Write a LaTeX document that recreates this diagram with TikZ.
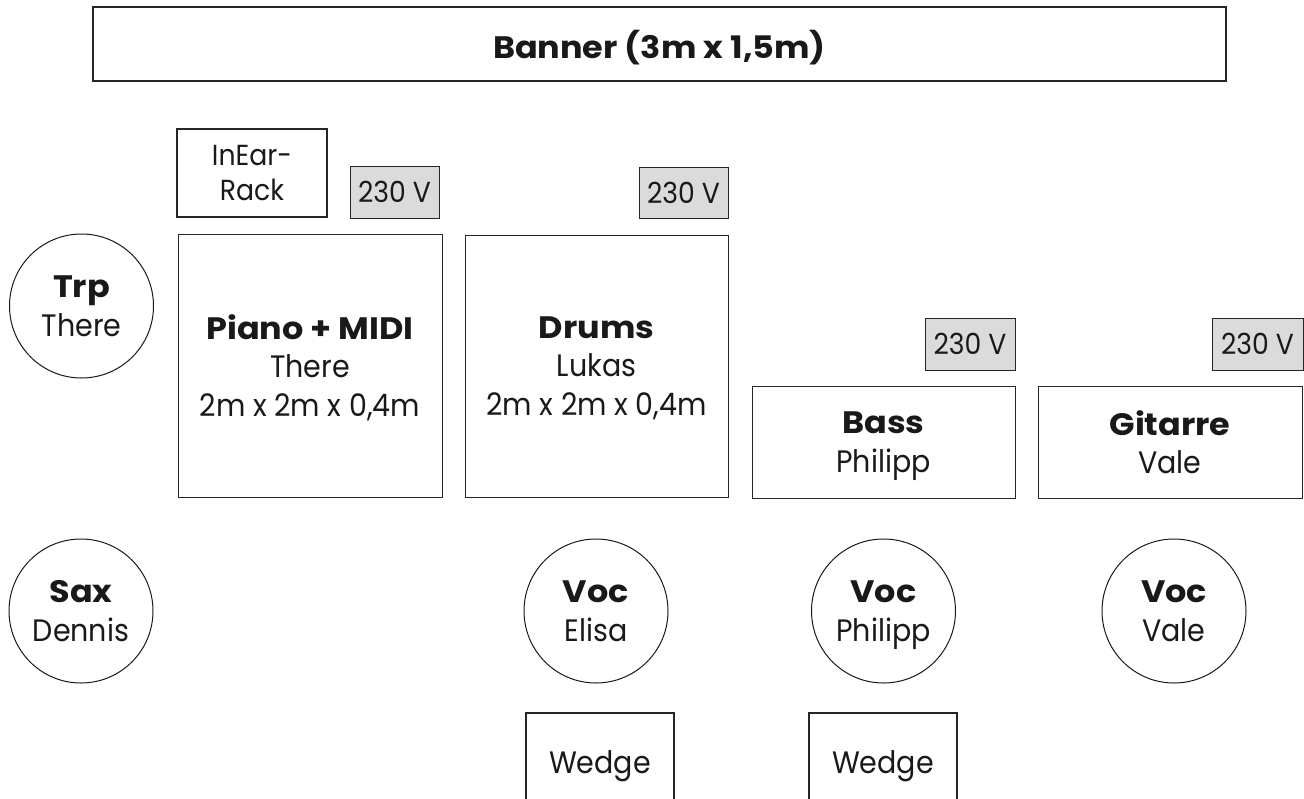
\documentclass[tikz,border=0pt]{standalone}
\usepackage{fontspec}
\setmainfont{Poppins}[FakeStretch=0.92,BoldFeatures={FakeStretch=1.08}]
\newcommand\bigtxt{\fontsize{31}{38.5}\selectfont}
\newcommand\smalltxt{\fontsize{29}{35}\selectfont}
\begin{document}
\begin{tikzpicture}[x=1pt,y=-1pt,
  box/.style={draw=black!85,line width=1pt,inner sep=0pt,align=center,font=\bigtxt,text=black!90,text depth=0pt},
  thickbox/.style={box,line width=1.8pt,font=\smalltxt},
  power/.style={box,fill=black!14,font=\smalltxt},
  person/.style={circle,draw=black!90,line width=1pt,inner sep=0pt,minimum size=144pt,align=center,font=\bigtxt,text=black!90,text depth=0pt}]
\useasboundingbox (0,0) rectangle (1304,798);
\node[box,line width=1.3pt,minimum width=1133pt,minimum height=74pt] (banner) at (659.5,44) {\textbf{Banner (3m x 1,5m)}};
\node[thickbox,minimum width=150pt,minimum height=88pt] (inear) at (252,173) {InEar-\\Rack};
\node[power,minimum width=89pt,minimum height=52pt] (pwrA) at (394.5,192) {230 V};
\node[power,minimum width=89pt,minimum height=51pt] (pwrB) at (683.5,192.5) {230 V};
\node[power,minimum width=90pt,minimum height=52pt] (pwrC) at (970,344) {230 V};
\node[power,minimum width=91pt,minimum height=52pt] (pwrD) at (1257.5,344) {230 V};
\node[box,minimum width=264pt,minimum height=263pt] (piano) at (310,365.5) {\textbf{Piano + MIDI}\\There\\2m x 2m x 0,4m};
\node[box,minimum width=263pt,minimum height=262pt] (drums) at (596.5,366) {\textbf{Drums}\\Lukas\\2m x 2m x 0,4m};
\node[box,minimum width=263pt,minimum height=112pt] (bass) at (883.5,442) {\textbf{Bass}\\Philipp};
\node[box,minimum width=264pt,minimum height=112pt] (gitarre) at (1170,442) {\textbf{Gitarre}\\Vale};
\node[person] (trp) at (81.5,306) {\textbf{Trp}\\There};
\node[person] (sax) at (81,611) {\textbf{Sax}\\Dennis};
\node[person] (vocE) at (596,611) {\textbf{Voc}\\Elisa};
\node[person] (vocP) at (883.5,611) {\textbf{Voc}\\Philipp};
\node[person] (vocV) at (1174,611) {\textbf{Voc}\\Vale};
\node[thickbox,font=\bigtxt,minimum width=148pt,minimum height=98pt] (wedgeE) at (600,762) {Wedge};
\node[thickbox,font=\bigtxt,minimum width=148pt,minimum height=98pt] (wedgeP) at (883,762) {Wedge};
\end{tikzpicture}
\end{document}
